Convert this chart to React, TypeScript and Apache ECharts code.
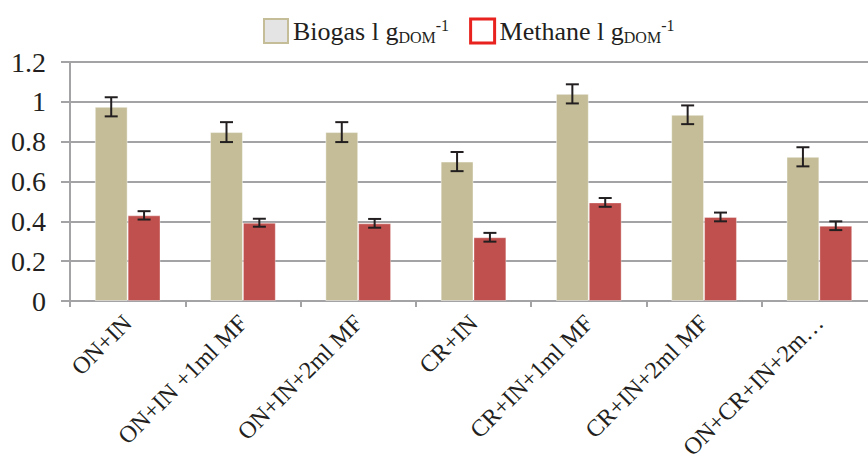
import React, { useEffect, useRef } from "react";
import * as echarts from "echarts";

const categories = [
  "ON+IN",
  "ON+IN +1ml MF",
  "ON+IN+2ml MF",
  "CR+IN",
  "CR+IN+1ml MF",
  "CR+IN+2ml MF",
  "ON+CR+IN+2m…",
];
const biogas = [0.975, 0.848, 0.848, 0.7, 1.04, 0.935, 0.724];
const biogasErr = [0.048, 0.05, 0.05, 0.048, 0.048, 0.047, 0.048];
const methane = [0.43, 0.393, 0.39, 0.32, 0.495, 0.422, 0.378];
const methaneErr = [0.021, 0.02, 0.022, 0.022, 0.022, 0.022, 0.022];
const yTicks = { min: 0, max: 1.2, interval: 0.2 };

const FONT = "'Liberation Serif', 'Times New Roman', serif";
const TEXT = "#231F20";
const AXIS = "#A3A3A6";
const CAT_GAP = 0.43;

function errData(vals: number[], errs: number[]) {
  return vals.map((v, i) => [i, v - errs[i], v + errs[i]]);
}

function makeErrRender(sign: number) {
  return (params: any, api: any) => {
    const i = api.value(0);
    const lo = api.coord([i, api.value(1)]);
    const hi = api.coord([i, api.value(2)]);
    const band = api.size([1, 0])[0];
    const barW = (band * (1 - CAT_GAP)) / 2;
    const x = lo[0] + (sign * barW) / 2;
    const cap = 6.5;
    const style = { stroke: TEXT, lineWidth: 2 };
    return {
      type: "group",
      children: [
        { type: "line", shape: { x1: x, y1: hi[1], x2: x, y2: lo[1] }, style },
        { type: "line", shape: { x1: x - cap, y1: hi[1], x2: x + cap, y2: hi[1] }, style },
        { type: "line", shape: { x1: x - cap, y1: lo[1], x2: x + cap, y2: lo[1] }, style },
      ],
    };
  };
}

export default function App() {
  const ref = useRef<HTMLDivElement>(null);
  useEffect(() => {
    if (!ref.current) return;
    const chart = echarts.init(ref.current, undefined, { renderer: "svg" });
    const legendFmt = (name: string) =>
      name === "Biogas"
        ? "{a|Biogas l g}{sub|DOM}{sup|-1}"
        : "{a|Methane l g}{sub|DOM}{sup|-1}";
    chart.setOption({
      animation: false,
      backgroundColor: "#ffffff",
      textStyle: { fontFamily: FONT },
      legend: {
        left: 258,
        top: 12,
        itemWidth: 24,
        itemHeight: 24,
        itemGap: 20,
        icon: "rect",
        formatter: legendFmt,
        data: [
          {
            name: "Biogas",
            itemStyle: { color: "#E4E4E4", borderColor: "#C4BD97", borderWidth: 2 },
          },
          {
            name: "Methane",
            itemStyle: { color: "#ffffff", borderColor: "#E8231F", borderWidth: 3 },
          },
        ],
        textStyle: {
          fontFamily: FONT,
          color: TEXT,
          rich: {
            a: { fontFamily: FONT, fontSize: 26, lineHeight: 28, color: TEXT },
            sub: {
              fontFamily: FONT,
              fontSize: 16,
              lineHeight: 21,
              verticalAlign: "bottom",
              color: TEXT,
            },
            sup: {
              fontFamily: FONT,
              fontSize: 16,
              lineHeight: 16,
              verticalAlign: "top",
              color: TEXT,
            },
          },
        },
      },
      grid: {
        left: 70,
        top: 62,
        width: 807,
        height: 239,
        containLabel: false,
        outerBoundsMode: "none",
      },
      xAxis: {
        type: "category",
        data: categories,
        axisLine: { show: true, lineStyle: { color: AXIS, width: 2 } },
        axisTick: { show: true, length: 6, lineStyle: { color: AXIS, width: 2 } },
        axisLabel: {
          rotate: 45,
          margin: 18,
          fontFamily: FONT,
          fontSize: 24,
          color: TEXT,
          interval: 0,
        },
        splitLine: { show: false },
      },
      yAxis: {
        type: "value",
        min: yTicks.min,
        max: yTicks.max,
        interval: yTicks.interval,
        axisLine: { show: true, lineStyle: { color: AXIS, width: 2 } },
        axisTick: { show: true, length: 9, lineStyle: { color: AXIS, width: 2 } },
        axisLabel: { margin: 24, fontFamily: FONT, fontSize: 28, color: TEXT },
        splitLine: { show: true, lineStyle: { color: AXIS, width: 2 } },
      },
      series: [
        {
          name: "Biogas",
          type: "bar",
          data: biogas,
          barGap: "0%",
          barCategoryGap: CAT_GAP * 100 + "%",
          itemStyle: { color: "#C4BD97", borderColor: "rgba(255,255,255,0.45)", borderWidth: 1 },
        },
        {
          name: "Methane",
          type: "bar",
          data: methane,
          barGap: "0%",
          barCategoryGap: CAT_GAP * 100 + "%",
          itemStyle: { color: "#C0504D", borderColor: "rgba(255,255,255,0.35)", borderWidth: 1 },
        },
        {
          type: "custom",
          renderItem: makeErrRender(-1),
          data: errData(biogas, biogasErr),
          encode: { x: 0, y: [1, 2] },
          z: 10,
          silent: true,
        },
        {
          type: "custom",
          renderItem: makeErrRender(1),
          data: errData(methane, methaneErr),
          encode: { x: 0, y: [1, 2] },
          z: 10,
          silent: true,
        },
      ],
    });
    return () => chart.dispose();
  }, []);
  return <div ref={ref} style={{ width: 868, height: 464, position: "absolute", left: 0, top: 0 }} />;
}
